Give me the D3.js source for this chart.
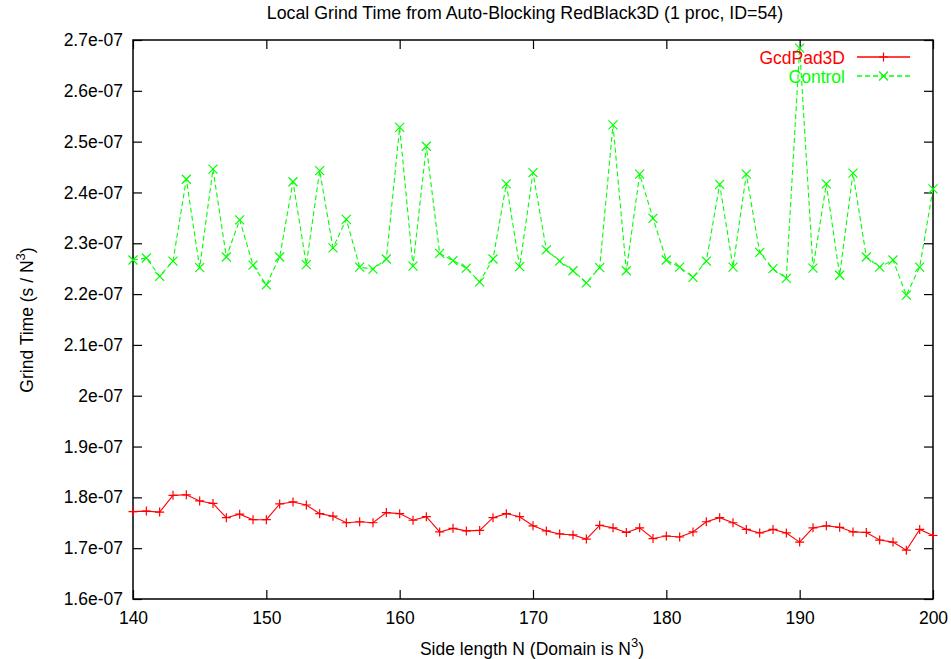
<!DOCTYPE html>
<html>
<head>
<meta charset="utf-8">
<script src="https://cdn.jsdelivr.net/npm/d3@7"></script>
<style>
  body { margin: 0; background: #fff; }
  text { font-family: "Liberation Sans", Arial, sans-serif; }
</style>
</head>
<body>
<svg width="951" height="659"></svg>
<script>
// side length N
const sizes = d3.range(140, 201);

// grind time, units of 1e-7 s / N^3
const gcdPad = [
  1.772, 1.773, 1.771, 1.804, 1.805, 1.793, 1.788, 1.760, 1.767, 1.756,
  1.756, 1.787, 1.791, 1.785, 1.768, 1.763, 1.750, 1.752, 1.750, 1.770,
  1.768, 1.755, 1.762, 1.732, 1.739, 1.734, 1.735, 1.760, 1.768, 1.762,
  1.744, 1.734, 1.728, 1.726, 1.718, 1.745, 1.740, 1.731, 1.740, 1.719,
  1.724, 1.722, 1.732, 1.752, 1.760, 1.750, 1.737, 1.730, 1.737, 1.730,
  1.712, 1.740, 1.744, 1.741, 1.732, 1.731, 1.716, 1.712, 1.696, 1.737,
  1.725
];
const control = [
  2.267, 2.271, 2.235, 2.265, 2.426, 2.252, 2.446, 2.273, 2.346, 2.257,
  2.218, 2.273, 2.421, 2.258, 2.443, 2.291, 2.347, 2.253, 2.249, 2.269,
  2.528, 2.255, 2.491, 2.280, 2.266, 2.251, 2.224, 2.269, 2.417, 2.254,
  2.439, 2.287, 2.265, 2.246, 2.222, 2.252, 2.533, 2.246, 2.436, 2.349,
  2.267, 2.253, 2.233, 2.265, 2.416, 2.253, 2.436, 2.282, 2.250, 2.231,
  2.684, 2.251, 2.417, 2.237, 2.438, 2.273, 2.253, 2.267, 2.198, 2.253,
  2.407
];

const xTicks = [140, 150, 160, 170, 180, 190, 200];
const yTicks = [1.6, 1.7, 1.8, 1.9, 2.0, 2.1, 2.2, 2.3, 2.4, 2.5, 2.6, 2.7];
const yTickLabels = ['1.6e-07', '1.7e-07', '1.8e-07', '1.9e-07', '2e-07', '2.1e-07',
  '2.2e-07', '2.3e-07', '2.4e-07', '2.5e-07', '2.6e-07', '2.7e-07'];

const series = [
  { name: 'GcdPad3D', values: gcdPad, color: '#ff0000', dash: null, mark: 'plus' },
  { name: 'Control', values: control, color: '#00ff00', dash: '5,3', mark: 'cross' }
];

const plotL = 133, plotR = 933, plotT = 40, plotB = 599;
const fs = 17.5;
const svg = d3.select('svg');

const x = d3.scaleLinear().domain([140, 200]).range([plotL, plotR]);
const y = d3.scaleLinear().domain([1.6, 2.7]).range([plotB, plotT]);

const tickLen = 9;
const fmtY = (d, i) => yTickLabels[i];

// axes with inward ticks, mirrored on the opposite side
svg.append('g')
  .attr('transform', `translate(0,${plotB})`)
  .call(d3.axisBottom(x).tickValues(xTicks).tickSize(-tickLen).tickPadding(13).tickFormat(d3.format('d')))
  .call(g => g.select('.domain').remove())
  .call(g => g.selectAll('text').attr('font-size', fs).attr('fill', '#000'));

svg.append('g')
  .attr('transform', `translate(0,${plotT})`)
  .call(d3.axisTop(x).tickValues(xTicks).tickSize(-tickLen).tickFormat(''))
  .call(g => g.select('.domain').remove());

svg.append('g')
  .attr('transform', `translate(${plotL},0)`)
  .call(d3.axisLeft(y).tickValues(yTicks).tickSize(-tickLen).tickPadding(10).tickFormat(fmtY))
  .call(g => g.select('.domain').remove())
  .call(g => g.selectAll('text').attr('font-size', fs).attr('fill', '#000'));

svg.append('g')
  .attr('transform', `translate(${plotR},0)`)
  .call(d3.axisRight(y).tickValues(yTicks).tickSize(-tickLen).tickFormat(''))
  .call(g => g.select('.domain').remove());

svg.selectAll('.tick line').attr('stroke', '#000').attr('stroke-width', 1.2);

svg.append('rect')
  .attr('x', plotL).attr('y', plotT)
  .attr('width', plotR - plotL).attr('height', plotB - plotT)
  .attr('fill', 'none').attr('stroke', '#000').attr('stroke-width', 1.5);

// markers
function marker(g, type, cx, cy, color) {
  const s = 4.5;
  const p = type === 'plus'
    ? `M${cx - s},${cy}H${cx + s}M${cx},${cy - s}V${cy + s}`
    : `M${cx - s},${cy - s}L${cx + s},${cy + s}M${cx - s},${cy + s}L${cx + s},${cy - s}`;
  g.append('path').attr('d', p).attr('stroke', color).attr('stroke-width', 1.2).attr('fill', 'none');
}

const line = d3.line().x((d, i) => x(sizes[i])).y(d => y(d));

series.forEach(s => {
  const g = svg.append('g');
  g.append('path')
    .datum(s.values)
    .attr('d', line)
    .attr('fill', 'none')
    .attr('stroke', s.color)
    .attr('stroke-width', 1.1)
    .attr('stroke-dasharray', s.dash);
  s.values.forEach((v, i) => marker(g, s.mark, x(sizes[i]), y(v), s.color));
});

// legend
series.forEach((s, i) => {
  const ly = 57 + i * 19;
  svg.append('text')
    .attr('x', 845).attr('y', ly + 6.5)
    .attr('text-anchor', 'end')
    .attr('font-size', fs)
    .attr('fill', s.color)
    .text(s.name);
  const g = svg.append('g');
  g.append('line')
    .attr('x1', 857).attr('x2', 910).attr('y1', ly).attr('y2', ly)
    .attr('stroke', s.color).attr('stroke-width', 1.3)
    .attr('stroke-dasharray', s.dash);
  marker(g, s.mark, 883.5, ly, s.color);
});

// titles
svg.append('text')
  .attr('x', 525).attr('y', 19)
  .attr('text-anchor', 'middle')
  .attr('font-size', 17.8)
  .text('Local Grind Time from Auto-Blocking RedBlack3D (1 proc, ID=54)');

const xl = svg.append('text')
  .attr('x', 532).attr('y', 655)
  .attr('text-anchor', 'middle')
  .attr('font-size', fs);
xl.append('tspan').text('Side length N (Domain is N');
xl.append('tspan').attr('dy', -8).attr('font-size', 13).text('3');
xl.append('tspan').attr('dy', 8).text(')');

const yl = svg.append('text')
  .attr('transform', 'translate(33,320) rotate(-90)')
  .attr('text-anchor', 'middle')
  .attr('font-size', fs);
yl.append('tspan').text('Grind Time (s / N');
yl.append('tspan').attr('dy', -8).attr('font-size', 13).text('3');
yl.append('tspan').attr('dy', 8).text(')');
</script>
</body>
</html>
